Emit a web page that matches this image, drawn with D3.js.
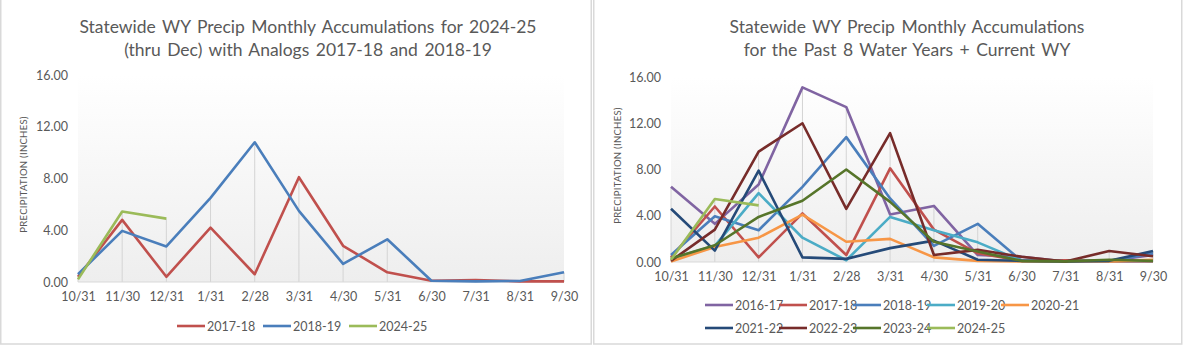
<!DOCTYPE html>
<html>
<head>
<meta charset="utf-8">
<script src="https://cdn.jsdelivr.net/npm/d3@7"></script>
<style>
  body { margin: 0; background: #fff; }
  svg { display: block; font-family: Lato, "Open Sans", sans-serif; }
</style>
</head>
<body>
<svg id="chart" width="1183" height="347"></svg>
<script>
// month-end labels of the water year
const months = ['10/31', '11/30', '12/31', '1/31', '2/28', '3/31', '4/30', '5/31', '6/30', '7/31', '8/31', '9/30']
const yTicks = [0, 4, 8, 12, 16]

// monthly precip (inches)
const wy2016_17 = [6.5, 3.3, 6.7, 15.1, 13.4, 4.1, 4.85, 0.6, 0.45, 0.05, 0.1, 0.6]
const wy2017_18 = [0.4, 4.8, 0.4, 4.2, 0.6, 8.1, 2.8, 0.75, 0.1, 0.15, 0.05, 0.05]
const wy2018_19 = [0.6, 3.95, 2.75, 6.5, 10.8, 5.5, 1.4, 3.3, 0.1, 0.05, 0.08, 0.75]
const wy2019_20 = [0.3, 1.4, 5.95, 2.1, 0.15, 3.9, 2.75, 1.7, 0.1, 0.05, 0.1, 0.1]
const wy2020_21 = [0.05, 1.3, 2.1, 4.1, 1.75, 2.0, 0.4, 0.1, 0.05, 0.05, 0.05, 0.2]
const wy2021_22 = [4.6, 0.98, 7.9, 0.4, 0.27, 1.2, 1.85, 0.2, 0.1, 0.05, 0.1, 0.95]
const wy2022_23 = [0.1, 2.8, 9.55, 12.0, 4.6, 11.15, 0.6, 1.05, 0.45, 0.05, 0.95, 0.5]
const wy2023_24 = [0.3, 1.45, 3.9, 5.3, 8.0, 5.2, 1.75, 0.9, 0.1, 0.05, 0.2, 0.1]
const wy2024_25 = [0.2, 5.45, 4.9]

const leftSeries = [
  { name: '2017-18', color: '#c0504d', values: wy2017_18 },
  { name: '2018-19', color: '#4a7ebb', values: wy2018_19 },
  { name: '2024-25', color: '#9bbb59', values: wy2024_25 }
]
const rightSeries = [
  { name: '2016-17', color: '#8064a2', values: wy2016_17 },
  { name: '2017-18', color: '#c0504d', values: wy2017_18 },
  { name: '2018-19', color: '#4a7ebb', values: wy2018_19 },
  { name: '2019-20', color: '#4bacc6', values: wy2019_20 },
  { name: '2020-21', color: '#f79646', values: wy2020_21 },
  { name: '2021-22', color: '#254a78', values: wy2021_22 },
  { name: '2022-23', color: '#772c2a', values: wy2022_23 },
  { name: '2023-24', color: '#56752a', values: wy2023_24 },
  { name: '2024-25', color: '#9bbb59', values: wy2024_25 }
]

const svg = d3.select('svg#chart')
const textColor = '#595959'

const defs = svg.append('defs')
const grad = defs.append('linearGradient')
  .attr('id', 'plotbg')
  .attr('x1', 0).attr('y1', 0).attr('x2', 0).attr('y2', 1)
grad.append('stop').attr('offset', '0%').attr('stop-color', '#ffffff')
grad.append('stop').attr('offset', '100%').attr('stop-color', '#eeeeee')

// panel frames
svg.append('rect')
  .attr('x', 0.75).attr('y', -2).attr('width', 590.5).attr('height', 346)
  .attr('fill', 'none').attr('stroke', '#d9d9d9').attr('stroke-width', 1.5)
svg.append('rect')
  .attr('x', 593.75).attr('y', -2).attr('width', 588).attr('height', 346)
  .attr('fill', 'none').attr('stroke', '#d9d9d9').attr('stroke-width', 1.5)

function drawChart(cfg) {
  const g = svg.append('g')

  const x = d3.scalePoint().domain(months).range([cfg.x0, cfg.x1])
  const y = d3.scaleLinear().domain([0, 16]).range([cfg.y0, cfg.y1])

  // plot area background
  g.append('rect')
    .attr('x', cfg.x0).attr('y', y(16))
    .attr('width', cfg.x1 - cfg.x0).attr('height', y(0) - y(16))
    .attr('fill', 'url(#plotbg)')

  // drop lines down from the highest series at each month
  const maxAt = months.map((m, i) => d3.max(cfg.series, s => s.values[i]))
  g.append('g').selectAll('line')
    .data(months)
    .join('line')
    .attr('x1', d => x(d)).attr('x2', d => x(d))
    .attr('y1', y(0))
    .attr('y2', (d, i) => y(maxAt[i]))
    .attr('stroke', '#d4d4d4').attr('stroke-width', 1)

  // baseline
  g.append('line')
    .attr('x1', cfg.x0).attr('x2', cfg.x1)
    .attr('y1', y(0)).attr('y2', y(0))
    .attr('stroke', '#d9d9d9').attr('stroke-width', 1)

  // y axis labels
  const yAxis = g.append('g')
    .attr('transform', `translate(${cfg.x0 - 10},0)`)
    .call(d3.axisLeft(y).tickValues(yTicks).tickFormat(d3.format('.2f')).tickSize(0).tickPadding(0))
  yAxis.select('.domain').remove()
  yAxis.selectAll('text')
    .attr('fill', textColor).attr('font-size', 12.5).attr('font-family', 'Lato')

  // x axis labels
  const xAxis = g.append('g')
    .attr('transform', `translate(0,${cfg.y0 + 10})`)
    .call(d3.axisBottom(x).tickSize(0).tickPadding(0))
  xAxis.select('.domain').remove()
  xAxis.selectAll('text')
    .attr('fill', textColor).attr('font-size', 12.5).attr('font-family', 'Lato')

  // y title
  g.append('text')
    .attr('transform', `translate(${cfg.yTitleX},${(cfg.y0 + cfg.y1) / 2 - 4}) rotate(-90)`)
    .attr('text-anchor', 'middle')
    .attr('dominant-baseline', 'central')
    .attr('fill', textColor)
    .attr('font-size', 9.5)
    .attr('letter-spacing', 0.3)
    .text('PRECIPITATION (INCHES)')

  // title
  g.append('g').selectAll('text')
    .data(cfg.title)
    .join('text')
    .attr('x', cfg.titleX)
    .attr('y', (d, i) => 33 + i * 23)
    .attr('text-anchor', 'middle')
    .attr('fill', textColor)
    .attr('font-size', 17.5)
    .attr('word-spacing', 2)
    .text(d => d)

  // series lines
  const line = d3.line()
    .x((d, i) => x(months[i]))
    .y(d => y(d))
  g.append('g').selectAll('path')
    .data(cfg.series)
    .join('path')
    .attr('d', d => line(d.values))
    .attr('fill', 'none')
    .attr('stroke', d => d.color)
    .attr('stroke-width', 2.6)
    .attr('stroke-linejoin', 'round')

  // legend
  const leg = g.append('g').selectAll('g')
    .data(cfg.series)
    .join('g')
    .attr('transform', (d, i) => {
      const col = i % cfg.legendCols
      const row = Math.floor(i / cfg.legendCols)
      return `translate(${cfg.legendX + col * cfg.legendStep},${cfg.legendY + row * 23})`
    })
  leg.append('line')
    .attr('x1', 0).attr('x2', 28)
    .attr('stroke', d => d.color).attr('stroke-width', 2.6)
  leg.append('text')
    .attr('x', 30)
    .attr('dominant-baseline', 'central')
    .attr('fill', textColor)
    .attr('font-size', 12.5)
    .text(d => d.name)
}

drawChart({
  series: leftSeries,
  x0: 78, x1: 564, y0: 282, y1: 75,
  yTitleX: 23,
  titleX: 308,
  title: ['Statewide WY Precip Monthly Accumulations for 2024-25', '(thru Dec) with Analogs 2017-18 and 2018-19'],
  legendX: 177, legendY: 326, legendStep: 86, legendCols: 3
})

drawChart({
  series: rightSeries,
  x0: 671, x1: 1153, y0: 262, y1: 77,
  yTitleX: 617,
  titleX: 907,
  title: ['Statewide WY Precip Monthly Accumulations', 'for the Past 8 Water Years + Current WY'],
  legendX: 705, legendY: 305, legendStep: 74, legendCols: 5
})
</script>
</body>
</html>
